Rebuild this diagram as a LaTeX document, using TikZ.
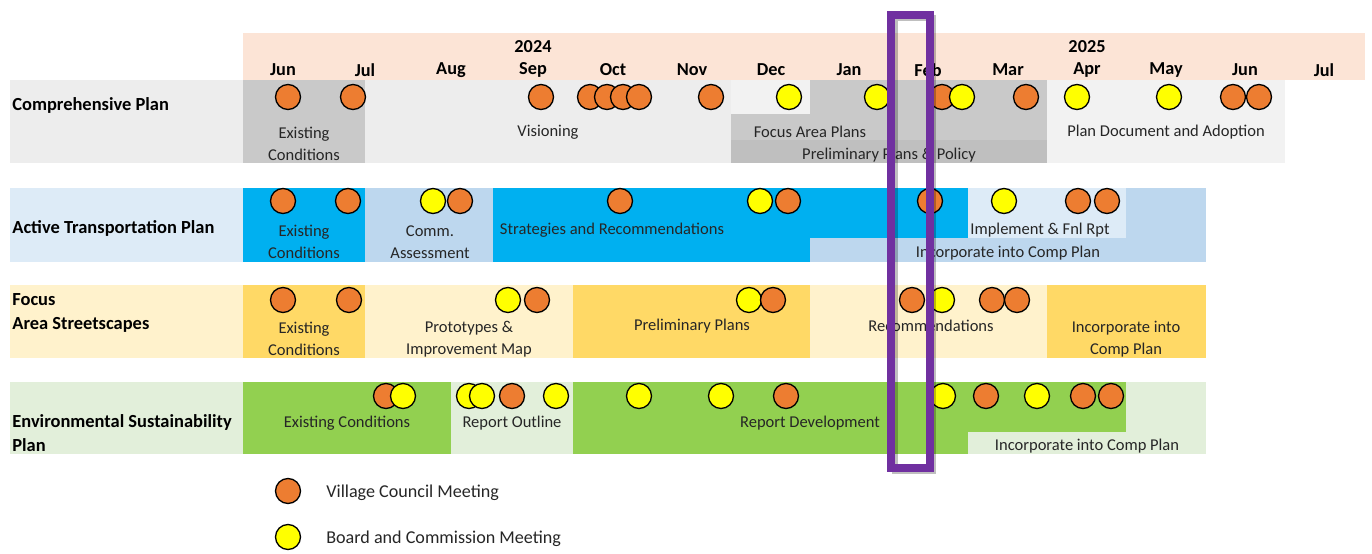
\documentclass[tikz,border=0pt]{standalone}
\usepackage{fontspec}
\setmainfont{Carlito}

\definecolor{hdrpink}{HTML}{FCE4D6}
\definecolor{cpBase}{HTML}{EDEDED}
\definecolor{cpPale}{HTML}{F2F2F2}
\definecolor{cpDark}{HTML}{C9C9C9}
\definecolor{cpDeep}{HTML}{BFBFBF}
\definecolor{atBase}{HTML}{DDEBF7}
\definecolor{atMid}{HTML}{BDD7EE}
\definecolor{atBright}{HTML}{00B0F0}
\definecolor{faBase}{HTML}{FFF2CC}
\definecolor{faMid}{HTML}{FFD966}
\definecolor{esBase}{HTML}{E2EFDA}
\definecolor{esMid}{HTML}{92D050}
\definecolor{vcOrange}{HTML}{ED7D31}
\definecolor{bcYellow}{HTML}{FFFF00}
\definecolor{focusPurple}{HTML}{7030A0}

\tikzset{
  meet/.style={circle, draw=black, line width=0.75pt, minimum size=0.5cm, inner sep=0pt},
  rowname/.style={anchor=west, align=left, inner sep=0pt, yshift=-0.6pt, font=\fontsize{10.5}{13.5}\selectfont\bfseries},
  phase/.style={align=center, inner sep=0pt, yshift=-1.1pt, text=black!85, font=\fontsize{9.4}{12.5}\selectfont},
  month/.style={inner sep=0pt, yshift=-0.5pt, font=\fontsize{10.4}{12}\selectfont\bfseries},
  keytext/.style={anchor=west, inner sep=0pt, yshift=-1pt, text=black!85, font=\fontsize{10.3}{12.5}\selectfont},
}

\begin{document}
\begin{tikzpicture}[x=0.02cm, y=-0.02cm]
\useasboundingbox (0,0) rectangle (1372,554);

% header band
\fill[hdrpink] (243,33) rectangle (1365,80);
\node[month] (yr2024) at (533,46) {2024};
\node[month] (yr2025) at (1087,46) {2025};
\foreach \m/\x in {Jun/283, Jul/365, Aug/451, Sep/533, Oct/613, Nov/692, Dec/771,
                   Jan/849, Feb/928, Mar/1008, Apr/1087, May/1166, Jun/1245, Jul/1324}
  \node[month] (mon\x) at (\x,69) {\m};

% comprehensive plan
\fill[cpBase] (10,80) rectangle (1285,163);
\fill[cpDark] (243,80) rectangle (365,163);
\fill[cpPale] (731,80) rectangle (810,114);
\fill[cpDark] (731,114) rectangle (810,140);
\fill[cpDark] (810,80) rectangle (1047,140);
\fill[cpDeep] (731,140) rectangle (1047,163);
\fill[cpPale] (1047,80) rectangle (1285,163);
\node[rowname] (cpName) at (12,104) {Comprehensive Plan};
\node[phase] (cpExist) at (304,142) {Existing\\Conditions};
\node[phase] (cpVision) at (548,130) {Visioning};
\node[phase] (cpFocus) at (810,130) {Focus Area Plans};
\node[phase] (cpPrelim) at (889,153) {Preliminary Plans \& Policy};
\node[phase] (cpAdopt) at (1166,130) {Plan Document and Adoption};

% active transportation plan
\fill[atBase] (10,188) rectangle (243,262);
\fill[atBright] (243,188) rectangle (365,262);
\fill[atMid] (365,188) rectangle (493,262);
\fill[atBright] (493,188) rectangle (810,262);
\fill[atBright] (810,188) rectangle (968,238);
\fill[atBase] (968,188) rectangle (1126,238);
\fill[atMid] (1126,188) rectangle (1206,238);
\fill[atMid] (810,238) rectangle (1206,262);
\node[rowname] (atName) at (12,227) {Active Transportation Plan};
\node[phase] (atExist) at (304,240) {Existing\\Conditions};
\node[phase] (atComm) at (430,240) {Comm.\\Assessment};
\node[phase] (atStrat) at (612,228) {Strategies and Recommendations};
\node[phase] (atImpl) at (1040,228) {Implement \& Fnl Rpt};
\node[phase] (atIncorp) at (1008,251) {Incorporate into Comp Plan};

% focus area streetscapes
\fill[faBase] (10,285) rectangle (1206,358);
\fill[faMid] (243,285) rectangle (365,358);
\fill[faMid] (573,285) rectangle (810,358);
\fill[faMid] (1047,285) rectangle (1206,358);
\node[rowname] (faName) at (12,312) {Focus\\Area Streetscapes};
\node[phase] (faExist) at (304,337) {Existing\\Conditions};
\node[phase] (faProto) at (469,337) {Prototypes \&\\Improvement Map};
\node[phase] (faPrelim) at (692,324) {Preliminary Plans};
\node[phase] (faRecom) at (931,324) {Recommendations};
\node[phase] (faIncorp) at (1126,337) {Incorporate into\\Comp Plan};

% environmental sustainability plan
\fill[esBase] (10,382) rectangle (1206,454);
\fill[esMid] (243,382) rectangle (451,454);
\fill[esMid] (573,382) rectangle (968,454);
\fill[esMid] (968,382) rectangle (1126,432);
\node[rowname] (esName) at (12,432) {Environmental Sustainability\\Plan};
\node[phase] (esExist) at (347,421) {Existing Conditions};
\node[phase] (esOutline) at (512,421) {Report Outline};
\node[phase] (esDevel) at (810,421) {Report Development};
\node[phase] (esIncorp) at (1087,444) {Incorporate into Comp Plan};

% meetings
\foreach \x/\c [count=\i] in {288/vcOrange, 353/vcOrange, 541/vcOrange, 590/vcOrange,
    607/vcOrange, 623/vcOrange, 639/vcOrange, 711/vcOrange, 789/bcYellow, 877/bcYellow,
    942/vcOrange, 962/bcYellow, 1026/vcOrange, 1077/bcYellow, 1169/bcYellow,
    1233/vcOrange, 1259/vcOrange}
  \node[meet, fill=\c] (cpMeet\i) at (\x,97) {};
\foreach \x/\c [count=\i] in {283/vcOrange, 348/vcOrange, 433/bcYellow, 460/vcOrange,
    620/vcOrange, 760/bcYellow, 788/vcOrange, 930/vcOrange, 1004/bcYellow,
    1078/vcOrange, 1107/vcOrange}
  \node[meet, fill=\c] (atMeet\i) at (\x,201) {};
\foreach \x/\c [count=\i] in {283/vcOrange, 349/vcOrange, 508/bcYellow, 537/vcOrange,
    749/bcYellow, 773/vcOrange, 912/vcOrange, 942/bcYellow, 992/vcOrange, 1017/vcOrange}
  \node[meet, fill=\c] (faMeet\i) at (\x,300) {};
\foreach \x/\c [count=\i] in {386/vcOrange, 403/bcYellow, 469/bcYellow, 482/bcYellow,
    512/vcOrange, 556/bcYellow, 639/bcYellow, 721/bcYellow, 786/vcOrange, 943/bcYellow,
    986/vcOrange, 1037/bcYellow, 1083/vcOrange, 1111/vcOrange}
  \node[meet, fill=\c] (esMeet\i) at (\x,396) {};

% current month marker
\draw[black, opacity=0.25, line width=3pt] (895,18) rectangle (933,471);
\draw[focusPurple, line width=4pt] (891,15) rectangle (930,468);

% legend
\node[meet, fill=vcOrange] (keyVC) at (288,491) {};
\node[keytext] (keyVCtxt) at (326,491) {Village Council Meeting};
\node[meet, fill=bcYellow] (keyBC) at (288,537) {};
\node[keytext] (keyBCtxt) at (326,537) {Board and Commission Meeting};
\end{tikzpicture}
\end{document}
